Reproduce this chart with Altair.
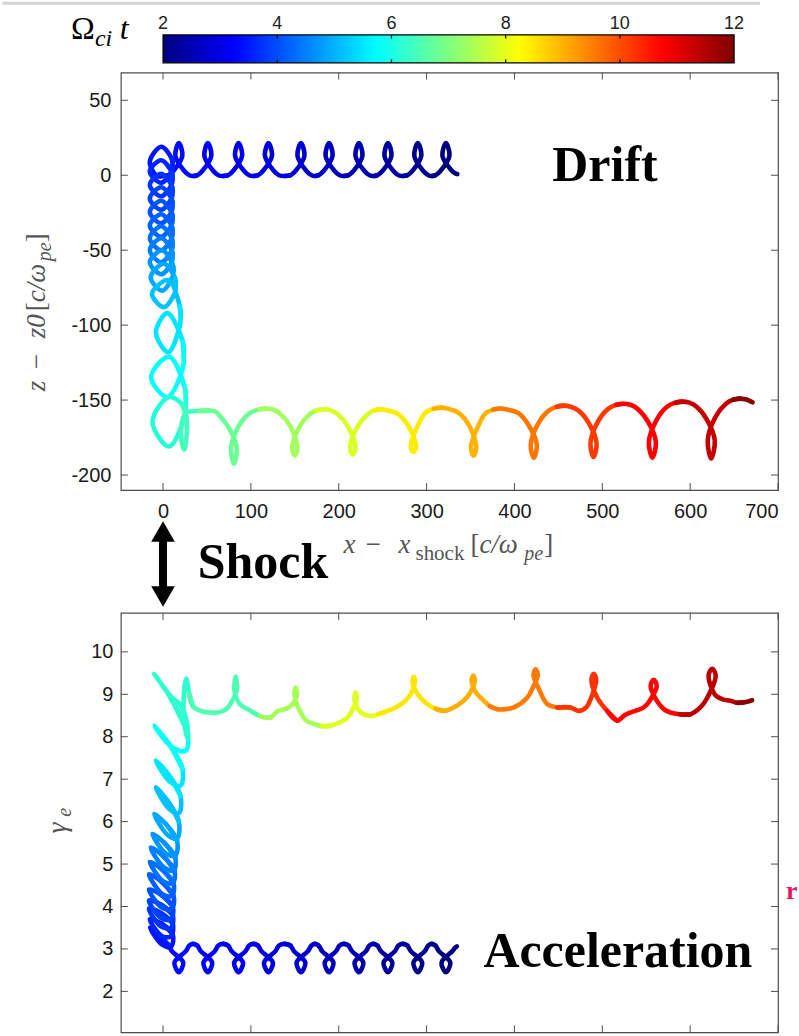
import altair as alt
import pandas as pd

# ---------------- colour scale : time  (Omega_ci t) ----------------
cbar_ticks = [2, 4, 6, 8, 10, 12]
jet_t = [2, 3.25, 5.75, 8.25, 10.75, 12]
jet_c = ["#00007f", "#0000ff", "#00ffff", "#ffff00", "#ff0000", "#7f0000"]

# ---------------- axes ----------------
x_ticks = [0, 100, 200, 300, 400, 500, 600, 700]
z_ticks = [50, 0, -50, -100, -150, -200]
g_ticks = [2, 3, 4, 5, 6, 7, 8, 9, 10]
x_dom = [-48, 700]
z_dom = [-210, 68.5]
g_dom = [1.035, 10.918]
cb_dom = [1.26, 12.77]
shock_x = [0]

# ---------------- top panel : z - z0 vs x  (one inner list per gyration) ----------------
drift_x = [
    [335, 332, 328, 318, 322, 326, 316, 310, 306],
    [302, 296, 286, 290, 294, 284, 278, 273],
    [268, 262, 252, 256, 260, 250, 244, 239.5],
    [235, 229, 219, 223, 227, 217, 211, 206],
    [201, 195, 185, 189, 193, 183, 177, 173],
    [169, 163, 153, 157, 161, 151, 145, 138.5],
    [132, 126, 116, 120, 124, 114, 108, 103],
    [98, 92, 82, 86, 90, 80, 74, 68.5],
    [63, 57, 47, 51, 55, 45, 39, 34.5],
    [30, 24, 14, 18, 22, 12, 6, 1],
]
drift_z = [
    [0.8, 1.5, 3.5, 13, 21.5, 13, 3, 0, -0.5],
    [0, 3, 13, 21.5, 13, 3, 0, -0.5],
    [0, 3, 13, 21.5, 13, 3, 0, -0.5],
    [0, 3, 13, 21.5, 13, 3, 0, -0.5],
    [0, 3, 13, 21.5, 13, 3, 0, -0.5],
    [0, 3, 13, 21.5, 13, 3, 0, -0.5],
    [0, 3, 13, 21.5, 13, 3, 0, -0.5],
    [0, 3, 13, 21.5, 13, 3, 0, -0.5],
    [0, 3, 13, 21.5, 13, 3, 0, -0.5],
    [0, 3, 13, 21.5, 13, 3, 0, -0.5],
]
drift_t = [2.0, 2.15, 2.3, 2.45, 2.6, 2.75, 2.9, 3.05, 3.2, 3.35]

column_x = [
    [-7, -15, -2, 10, 11],
    [10, -2, -15, -2, 10, 11],
    [10, -2, -15, -2, 10, 11],
    [10, -2, -15, -2, 10, 11],
    [10, -2, -15, -2, 10, 11],
    [10, -2, -15, -2, 10, 11],
    [10, -2, -15, -2, 10, 11],
    [10, -2, -15, -2, 10, 11],
    [10, -2, -15, -1, 11, 12],
    [11, -1, -14, 1, 13.5, 14.5],
    [13.5, 1, -12.5, 6, 19, 20],
    [19, 6, -8, 5, 22.5, 23.5],
    [22.5, 5, -13.5, 7, 25, 26],
    [25, 7, -12, 7, 22, 27],
]
column_z = [
    [-0.5, 9, 19, 11, 7],
    [3, -5, 2.5, 10, 2, -2],
    [-6, -14, -6.5, 1, -7, -11],
    [-15, -23, -15.5, -8, -16, -20],
    [-24, -32, -24.5, -17, -25, -29],
    [-33, -41, -33.5, -26, -34, -38],
    [-42, -50, -42, -34, -42, -46],
    [-50, -58, -50, -42, -50, -54],
    [-58, -66, -58, -50, -59.5, -63.5],
    [-67.5, -77, -68, -59, -68.5, -73.5],
    [-78.5, -88, -79, -70, -87, -94],
    [-101, -118, -105, -92, -111, -120],
    [-129, -148, -134.5, -121, -142, -151],
    [-160, -181, -164.5, -148, -153, -163],
]
column_t = [3.45, 3.6, 3.75, 3.9, 4.05, 4.2, 4.35, 4.5, 4.7, 4.9, 5.15, 5.5, 5.8, 6.1]

arches_x = [
    [27, 24.5, 21, 21.5, 26, 33, 42, 52],
    [60, 66, 76, 84, 80.8, 77.5, 86, 98, 109, 117],
    [125, 133, 145, 153, 150, 147, 155, 167, 175, 183],
    [191, 199, 211, 219, 216, 213, 221, 233, 240, 248],
    [256, 268, 280, 288, 285, 282, 290, 299, 308, 316],
    [324, 336, 348.5, 356.5, 353.5, 350.5, 358.5, 367, 376, 384],
    [392, 405, 417, 425.5, 422, 418.5, 427, 439, 448, 456],
    [464, 473, 485, 493.5, 490, 486.5, 495, 507, 516, 524],
    [532, 540, 552, 561, 557, 553, 562, 574, 583, 591],
    [599, 607, 619, 628, 624, 620, 629, 641, 649, 657],
    [663, 667, 671],
]
arches_z = [
    [-172, -183, -177, -165, -158.5, -157.5, -157.2, -157],
    [-157.8, -161.5, -169.5, -182, -192.5, -182, -167.5, -159, -156.3, -155.6],
    [-156.3, -158.9, -167.6, -182, -187, -182, -168.2, -159.5, -156.9, -156.2],
    [-156.9, -159.5, -168.2, -182, -186.2, -182, -168.2, -159.5, -156.9, -156.2],
    [-156.9, -159.5, -168, -181.5, -184.6, -181.5, -167, -158.3, -155.7, -155],
    [-155.7, -158.3, -167, -181.5, -187, -181.5, -167.6, -158.9, -156.3, -155.6],
    [-156.3, -158.9, -167.6, -180, -188.5, -180, -165.7, -157, -154.4, -153.7],
    [-154.4, -157, -165.7, -179, -188, -179, -164.4, -155.7, -153.1, -152.4],
    [-153.1, -155.7, -164.4, -178, -188.5, -178, -163, -154.3, -151.7, -151],
    [-151.7, -154.3, -163, -177, -189, -177, -161, -152.3, -149.7, -149],
    [-149.5, -150.3, -151.5],
]
arches_t = [6.4, 6.8, 7.33, 7.89, 8.44, 9.01, 9.58, 10.19, 10.76, 11.32, 11.88]

# ---------------- bottom panel : gamma_e vs x ----------------
low_x = [
    [334.5, 332, 329.5, 317, 322, 327, 314, 310, 306],
    [302, 298, 285, 290, 295, 282, 278, 273],
    [268, 264, 251, 256, 261, 248, 244, 239.5],
    [235, 231, 218, 223, 228, 215, 211, 206],
    [201, 197, 184, 189, 194, 181, 177, 173],
    [169, 165, 152, 157, 162, 149, 145, 138.5],
    [132, 128, 115, 120, 125, 112, 108, 103],
    [98, 94, 81, 86, 91, 78, 74, 68.5],
    [63, 59, 46, 51, 56, 43, 39, 34.5],
    [30, 26, 13, 18, 23, 10, 6, 1],
]
low_g = [
    [3.06, 3.02, 2.95, 2.68, 2.45, 2.68, 2.95, 3.08, 3.12],
    [3.08, 2.95, 2.68, 2.45, 2.68, 2.95, 3.08, 3.12],
    [3.08, 2.95, 2.68, 2.45, 2.68, 2.95, 3.08, 3.12],
    [3.08, 2.95, 2.68, 2.45, 2.68, 2.95, 3.08, 3.12],
    [3.08, 2.95, 2.68, 2.45, 2.68, 2.95, 3.08, 3.12],
    [3.08, 2.95, 2.68, 2.45, 2.68, 2.95, 3.08, 3.12],
    [3.08, 2.95, 2.68, 2.45, 2.68, 2.95, 3.08, 3.12],
    [3.08, 2.95, 2.68, 2.45, 2.68, 2.95, 3.08, 3.12],
    [3.08, 2.95, 2.68, 2.45, 2.68, 2.95, 3.08, 3.12],
    [3.08, 2.95, 2.68, 2.45, 2.68, 2.95, 3.1, 3.2],
]
low_t = [2.0, 2.15, 2.3, 2.45, 2.6, 2.75, 2.9, 3.05, 3.2, 3.35]

rise_x = [
    [-8, -15, -1, 9, 11, -2],
    [-15, -1, 9, 11, -2.5],
    [-16, -1.5, 9, 11, -2.5],
    [-16, -1.5, 9, 11, -2.5],
    [-16, -1, 10, 12, -2],
    [-16, -1, 10, 12, -1.5],
    [-15, 0, 11, 13, -0.5],
    [-14, 1, 12, 14, 1],
    [-12, 3, 14, 16, 3],
    [-10, 5, 16, 18, 4.85],
    [-8.3, 6.85, 18, 20, 5.85],
    [-8.3, 7.85, 20, 22, 6],
    [-10, 9.9, 25.8, 27.8, 8.9],
    [-10, 9, 20, 27, 28.5, 25, 23.5, 26.5, 29.5, 34],
]
rise_g = [
    [3.35, 3.5, 3.1, 3.05, 3.35, 3.6],
    [3.7, 3.3, 3.3, 3.6, 3.85],
    [3.95, 3.52, 3.5, 3.8, 4.05],
    [4.14, 3.72, 3.7, 4.0, 4.28],
    [4.4, 3.97, 3.95, 4.25, 4.59],
    [4.76, 4.3, 4.25, 4.55, 4.88],
    [5.05, 4.6, 4.55, 4.85, 5.2],
    [5.39, 4.92, 4.85, 5.15, 5.51],
    [5.71, 5.25, 5.2, 5.55, 5.95],
    [6.18, 5.69, 5.6, 6.0, 6.5],
    [6.81, 6.3, 6.2, 6.6, 7.12],
    [7.44, 6.94, 6.85, 7.25, 7.86],
    [8.26, 7.76, 7.67, 8.1, 8.9],
    [9.48, 8.95, 8.75, 8.35, 7.95, 8.2, 8.9, 9.37, 9.05, 8.72],
]
rise_t = [3.45, 3.6, 3.75, 3.9, 4.05, 4.2, 4.35, 4.5, 4.7, 4.9, 5.15, 5.5, 5.8, 6.2]

high_x = [
    [44, 54.3, 64, 72, 78, 84, 82.7, 81.3, 87, 99.8, 111, 122.5],
    [130.1, 140, 147, 152.5, 151, 149.5, 156, 163, 171.8, 181, 190.8],
    [200, 209.8, 216, 220.5, 219.2, 217.9, 224, 236.3, 245, 255.3],
    [266, 278, 283, 287, 285.5, 284, 290, 300.8, 310, 319.6],
    [327.2, 342.4, 350, 355, 353.1, 351.2, 356, 365.1, 372, 380.4],
    [390, 399.3, 414.5, 420, 426.5, 424.1, 421.7, 428, 437.3, 448.6, 463.8],
    [473.2, 482, 487, 493, 490.3, 487.6, 493.5, 505.5, 516.9],
    [525, 532, 547.2, 554, 562, 558.5, 555, 562, 570, 577.5, 588, 600.3],
    [611.6, 619, 629, 625, 621, 628, 637, 645.8, 653, 660.9],
    [666, 670.5],
]
high_g = [
    [8.6, 8.57, 8.58, 8.65, 8.82, 9.1, 9.42, 9.1, 8.78, 8.61, 8.48, 8.45],
    [8.6, 8.66, 8.75, 8.98, 9.16, 8.98, 8.6, 8.38, 8.3, 8.25, 8.26],
    [8.33, 8.45, 8.65, 8.88, 9.04, 8.88, 8.6, 8.49, 8.53, 8.61],
    [8.7, 8.89, 9.05, 9.3, 9.41, 9.3, 9.0, 8.77, 8.66, 8.61],
    [8.65, 8.85, 9.05, 9.33, 9.44, 9.33, 9.05, 8.85, 8.72, 8.65],
    [8.65, 8.69, 8.92, 9.12, 9.45, 9.59, 9.45, 9.12, 8.77, 8.69, 8.69],
    [8.61, 8.7, 8.9, 9.35, 9.48, 9.35, 8.95, 8.61, 8.38],
    [8.5, 8.57, 8.69, 8.85, 9.2, 9.34, 9.2, 8.85, 8.65, 8.57, 8.53, 8.53],
    [8.69, 8.9, 9.45, 9.6, 9.45, 9.0, 8.88, 8.85, 8.8, 8.81],
    [8.83, 8.86],
]
high_t = [6.5, 7.38, 7.95, 8.5, 9.04, 9.55, 10.25, 10.7, 11.4, 11.9]

# ---------------- annotation texts ----------------
txt_drift, txt_shock, txt_acc = "Drift", "Shock", "Acceleration"

# ---------------- build chunked trajectories ----------------
def chunked(sections, ycol):
    # each gyration is one line piece; consecutive pieces overlap by one segment
    rows, tail, cid = [], [], 0
    for xs, ys, ts in sections:
        for px, py, pt in zip(xs, ys, ts):
            pts = tail + list(zip(px, py))
            for k, (a, b) in enumerate(pts):
                rows.append({"x": a, ycol: b, "t": pt, "chunk": cid, "k": k})
            tail = pts[-2:]
            cid += 1
    return pd.DataFrame(rows)

top_df = chunked([(drift_x, drift_z, drift_t), (column_x, column_z, column_t),
                  (arches_x, arches_z, arches_t)], "z")
bot_df = chunked([(low_x, low_g, low_t), (rise_x, rise_g, rise_t),
                  (high_x, high_g, high_t)], "g")

W, H_TOP, H_BOT = 658, 418, 420
FRAME, LAB, TITLE = "#4d4d4d", "#1a1a1a", "#555555"

jet = alt.Scale(domain=jet_t, range=jet_c, interpolate="rgb")
xsc = alt.Scale(domain=x_dom, nice=False, zero=False)
zsc = alt.Scale(domain=z_dom, nice=False, zero=False)
gsc = alt.Scale(domain=g_dom, nice=False, zero=False)
cbsc = alt.Scale(domain=cb_dom, nice=False, zero=False)

HYPHEN = "replace(datum.label, '\u2212', '-')"
x_axis_t = alt.Axis(values=x_ticks, title=None, labelPadding=12)
x_axis_b = alt.Axis(values=x_ticks, title=None, labels=False)
z_axis = alt.Axis(values=z_ticks, title=None, labelPadding=10, labelExpr=HYPHEN)
g_axis = alt.Axis(values=g_ticks, title=None, labelPadding=8)


def trajectory(df, ycol, ysc, xax, yax):
    return alt.Chart(df).mark_line(
        interpolate="catmull-rom", strokeWidth=4.6, strokeCap="round", strokeJoin="round"
    ).encode(
        x=alt.X("x:Q", scale=xsc, axis=xax),
        y=alt.Y(f"{ycol}:Q", scale=ysc, axis=yax),
        color=alt.Color("t:Q", scale=jet, legend=None),
        detail="chunk:N",
        order="k:Q",
    )


def frame_ticks(ysc, xax, yax, yticks, height, L=7):
    xt = pd.DataFrame({"v": x_ticks})
    yt = pd.DataFrame({"v": yticks})
    out = []
    for y0, y1 in [(height, height - L), (0, L)]:
        out.append(alt.Chart(xt).mark_rule(color=FRAME, strokeWidth=1).encode(
            x=alt.X("v:Q", scale=xsc, axis=xax), y=alt.value(y0), y2=alt.value(y1)))
    for x0, x1 in [(0, L), (W, W - L)]:
        out.append(alt.Chart(yt).mark_rule(color=FRAME, strokeWidth=1).encode(
            y=alt.Y("v:Q", scale=ysc, axis=yax), x=alt.value(x0), x2=alt.value(x1)))
    return out


def label(s, x, y, size, font="Liberation Serif", color="black", weight="normal",
          style="normal", angle=0, align="left", baseline="alphabetic"):
    return alt.Chart(pd.DataFrame({"s": [s]})).mark_text(
        font=font, fontSize=size, color=color, fontWeight=weight, fontStyle=style,
        angle=angle, align=align, baseline=baseline,
    ).encode(text="s:N", x=alt.value(x), y=alt.value(y))


# ---------------- top panel ----------------
shock_df = pd.DataFrame({"x": shock_x})
arrow = [
    alt.Chart(shock_df).mark_rule(color="black", strokeWidth=8).encode(
        x=alt.X("x:Q", scale=xsc, axis=x_axis_t), y=alt.value(467), y2=alt.value(517)),
    alt.Chart(shock_df).mark_point(shape="triangle-up", size=560, filled=True, color="black", opacity=1).encode(
        x=alt.X("x:Q", scale=xsc, axis=x_axis_t), y=alt.value(459.5)),
    alt.Chart(shock_df).mark_point(shape="triangle-down", size=560, filled=True, color="black", opacity=1).encode(
        x=alt.X("x:Q", scale=xsc, axis=x_axis_t), y=alt.value(524.5)),
]
anchor = alt.Chart(pd.DataFrame({"s": [""]})).mark_point(
    shape="square", size=1, opacity=0, filled=True).encode(x=alt.value(-119.5), y=alt.value(-70.5))
# light grey page edge seen at the very top of the picture
page_edge = alt.Chart(pd.DataFrame({"s": [""]})).mark_rule(color="#d4d4d4", strokeWidth=3).encode(
    x=alt.value(-118.5), x2=alt.value(640), y=alt.value(-69.5))

XB, XS = 481, 488
top_texts = [
    label(txt_drift, 432, 109, 50, weight="bold"),
    label(txt_shock, 77, 506, 50, weight="bold"),
    # x-axis title  x - x_shock [c/omega_pe]
    label("x", 223, XB, 27, style="italic", color=TITLE),
    label("−", 245, XB, 27, color=TITLE),
    label("x", 278, XB, 27, style="italic", color=TITLE),
    label("shock", 295, XS, 21, color=TITLE),
    label("[", 350, XB, 27, color=TITLE),
    label("c/ω", 359, XB, 27, style="italic", color=TITLE),
    label("pe", 404, XS, 20, style="italic", color=TITLE),
    label("]", 424, XB, 27, color=TITLE),
    # y-axis title  z - z0 [c/omega_pe]  (rotated)
    label("z", -76, 319, 27, style="italic", color=TITLE, angle=270),
    label("−", -76, 297, 27, color=TITLE, angle=270),
    label("z0", -76, 266, 27, style="italic", color=TITLE, angle=270),
    label("[", -76, 239, 27, color=TITLE, angle=270),
    label("c/ω", -76, 230, 27, style="italic", color=TITLE, angle=270),
    label("pe", -70, 189, 20, style="italic", color=TITLE, angle=270),
    label("]", -76, 170, 27, color=TITLE, angle=270),
    # colour-bar title  Omega_ci t
    label("Ω", -50, -34, 32),
    label("ci", -26, -27, 24, style="italic"),
    label("t", -1, -34, 32, style="italic"),
]

top_main = alt.layer(
    trajectory(top_df, "z", zsc, x_axis_t, z_axis),
    *frame_ticks(zsc, x_axis_t, z_axis, z_ticks, H_TOP),
    *arrow, *top_texts, anchor, page_edge,
)

cb_df = pd.DataFrame({"lo": [cbar_ticks[0]], "hi": [cbar_ticks[-1]]})
grad = alt.Gradient(
    gradient="linear", x1=0, x2=1, y1=0, y2=0,
    stops=[alt.GradientStop(offset=(v - jet_t[0]) / (jet_t[-1] - jet_t[0]), color=c)
           for v, c in zip(jet_t, jet_c)],
)
cbt_in = pd.DataFrame({"v": cbar_ticks[1:-1]})
cbt_all = pd.DataFrame({"v": cbar_ticks})
cb_group = alt.layer(
    alt.Chart(cb_df).mark_rect(fill=grad, stroke="black", strokeWidth=1.3).encode(
        x=alt.X("lo:Q", scale=cbsc, axis=None),
        x2="hi:Q", y=alt.value(-37.7), y2=alt.value(-9.7)),
    alt.Chart(cbt_in).mark_rule(color="black", strokeWidth=1.2).encode(
        x=alt.X("v:Q", scale=cbsc, axis=None), y=alt.value(-37.7), y2=alt.value(-34)),
    alt.Chart(cbt_in).mark_rule(color="black", strokeWidth=1.2).encode(
        x=alt.X("v:Q", scale=cbsc, axis=None), y=alt.value(-13.4), y2=alt.value(-9.7)),
    alt.Chart(cbt_all).mark_text(font="Liberation Sans", fontSize=18, color="#222222",
                                 baseline="alphabetic", align="center").encode(
        x=alt.X("v:Q", scale=cbsc, axis=None), y=alt.value(-44), text="v:Q"),
)

top = alt.layer(top_main, cb_group).resolve_scale(x="independent").properties(
    width=W, height=H_TOP)

# ---------------- bottom panel ----------------
bot = alt.layer(
    trajectory(bot_df, "g", gsc, x_axis_b, g_axis),
    *frame_ticks(gsc, x_axis_b, g_axis, g_ticks, H_BOT),
    label(txt_acc, 363, 355, 50, weight="bold"),
    label("γ", -55, 221, 28, style="italic", color=TITLE, angle=270),
    label("e", -50, 204, 20, style="italic", color=TITLE, angle=270),
    label("r", 666, 286, 26, weight="bold", color="#e8175d"),
).properties(width=W, height=H_BOT)

chart = alt.vconcat(top, bot, spacing=123, bounds="flush").properties(
    padding=0
).configure_view(stroke=FRAME, strokeWidth=1.2).configure_axis(
    labelFont="Liberation Sans", labelFontSize=20, labelColor=LAB,
    ticks=False, domain=False, grid=False,
)

chart.save("out.html", embed_options={"renderer": "svg", "actions": False})
